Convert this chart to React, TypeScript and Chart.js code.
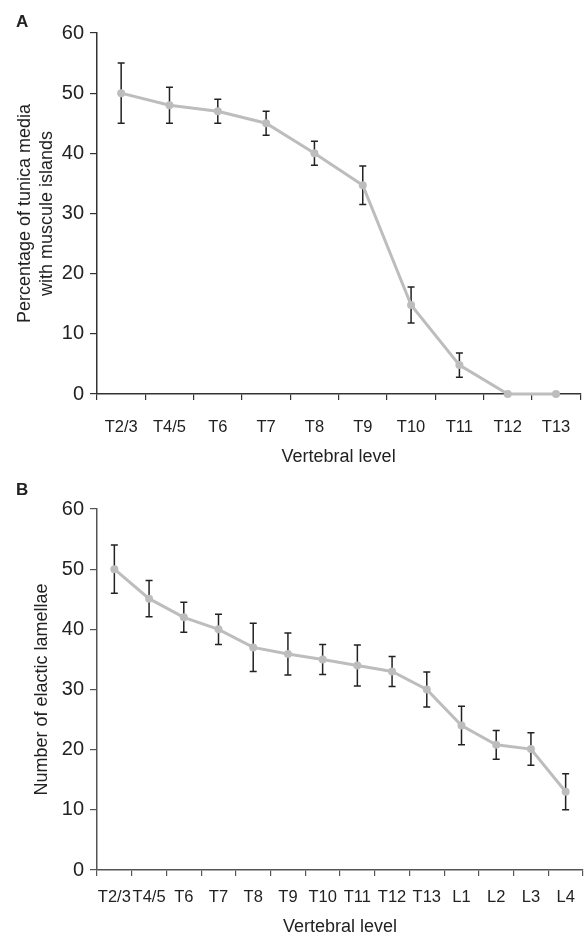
import React, { useEffect, useRef } from 'react';
import { Chart, registerables } from 'chart.js';

Chart.register(...registerables);

const catsA = ['T2/3', 'T4/5', 'T6', 'T7', 'T8', 'T9', 'T10', 'T11', 'T12', 'T13'];
const meanA = [50, 48, 47, 45, 40, 34.7, 14.8, 4.8, 0, 0];
const errA = [5, 3, 2, 2, 2, 3.2, 3, 2, null, null];

const catsB = ['T2/3', 'T4/5', 'T6', 'T7', 'T8', 'T9', 'T10', 'T11', 'T12', 'T13', 'L1', 'L2', 'L3', 'L4'];
const meanB = [50, 45.1, 42, 40, 37, 35.9, 35, 34, 33, 30, 24, 20.8, 20.1, 13];
const errB = [4, 3, 2.5, 2.5, 4, 3.5, 2.5, 3.4, 2.5, 2.9, 3.2, 2.4, 2.7, 3];

const yMin = 0;
const yMax = 60;
const yStep = 10;

const FONT = '"Liberation Sans", Arial, sans-serif';
const TEXT = '#222';

const errorBarPlugin = {
  id: 'errorBars',
  beforeDatasetsDraw(chart: any, _args: any, opts: any) {
    const errs: (number | null)[] = opts.errors || [];
    const means: number[] = chart.data.datasets[0].data;
    const { ctx } = chart;
    const x = chart.scales.x;
    const y = chart.scales.y;
    ctx.save();
    ctx.strokeStyle = '#222';
    ctx.lineWidth = 1.5;
    errs.forEach((e, i) => {
      if (e == null) return;
      const px = x.getPixelForValue(i);
      const top = y.getPixelForValue(means[i] + e);
      const bot = y.getPixelForValue(means[i] - e);
      ctx.beginPath();
      ctx.moveTo(px, top);
      ctx.lineTo(px, bot);
      ctx.moveTo(px - 3.5, top);
      ctx.lineTo(px + 3.5, top);
      ctx.moveTo(px - 3.5, bot);
      ctx.lineTo(px + 3.5, bot);
      ctx.stroke();
    });
    ctx.restore();
  },
};

const panelLabelPlugin = {
  id: 'panelLabel',
  afterDraw(chart: any, _args: any, opts: any) {
    const { ctx } = chart;
    ctx.save();
    ctx.font = 'bold 17px ' + FONT;
    ctx.fillStyle = TEXT;
    ctx.textBaseline = 'alphabetic';
    ctx.fillText(opts.text, opts.x, opts.y);
    ctx.restore();
  },
};

function makeConfig(p: {
  cats: string[];
  mean: number[];
  err: (number | null)[];
  yTitle: string | string[];
  yTitleLineHeight: number;
  yTitlePad: number;
  xHeight: number;
  topPad: number;
  xLabelPad: number;
  xTitlePad: number;
  axisColor: string;
  label: string;
  labelY: number;
}): any {
  return {
    type: 'line',
    data: {
      labels: p.cats,
      datasets: [
        {
          data: p.mean,
          borderColor: '#bdbdbd',
          backgroundColor: '#bdbdbd',
          borderWidth: 3,
          pointRadius: 4,
          pointBorderWidth: 0,
          pointBackgroundColor: '#bdbdbd',
          tension: 0,
          clip: false,
        },
      ],
    },
    options: {
      animation: false,
      responsive: false,
      maintainAspectRatio: false,
      layout: { padding: { top: p.topPad, right: 5, left: 0, bottom: 0 } },
      plugins: {
        legend: { display: false },
        tooltip: { enabled: false },
        errorBars: { errors: p.err },
        panelLabel: { text: p.label, x: 16, y: p.labelY },
      },
      scales: {
        x: {
          type: 'category',
          offset: true,
          afterFit: (s: any) => {
            s.height = p.xHeight;
          },
          grid: {
            offset: true,
            drawOnChartArea: false,
            drawTicks: true,
            tickLength: 6,
            color: p.axisColor,
            lineWidth: 1.2,
          },
          border: { display: true, color: p.axisColor, width: 1.5 },
          ticks: {
            font: { family: FONT, size: 16.5 },
            color: TEXT,
            padding: p.xLabelPad,
            maxRotation: 0,
            autoSkip: false,
          },
          title: {
            display: true,
            text: 'Vertebral level',
            font: { family: FONT, size: 18 },
            color: TEXT,
            padding: { top: 0, bottom: p.xTitlePad },
          },
        },
        y: {
          type: 'linear',
          min: yMin,
          max: yMax,
          afterFit: (s: any) => {
            s.width = 97;
          },
          grid: {
            drawOnChartArea: false,
            drawTicks: true,
            tickLength: 7,
            color: p.axisColor,
            lineWidth: 1.2,
          },
          border: { display: true, color: p.axisColor, width: 1.5 },
          ticks: {
            stepSize: yStep,
            font: { family: FONT, size: 20 },
            color: TEXT,
            padding: 6,
          },
          title: {
            display: true,
            text: p.yTitle,
            font: { family: FONT, size: 18, lineHeight: p.yTitleLineHeight },
            color: TEXT,
            padding: { top: p.yTitlePad, bottom: 0 },
          },
        },
      },
    },
    plugins: [errorBarPlugin, panelLabelPlugin],
  };
}

function ChartCanvas({ config, width, height }: { config: any; width: number; height: number }) {
  const ref = useRef<HTMLCanvasElement | null>(null);
  useEffect(() => {
    if (!ref.current) return;
    const chart = new Chart(ref.current, config);
    return () => chart.destroy();
  }, [config]);
  return <canvas ref={ref} width={width} height={height} style={{ display: 'block', width, height }} />;
}

const configA = makeConfig({
  cats: catsA,
  mean: meanA,
  err: errA,
  yTitle: ['Percentage of tunica media', 'with muscule islands'],
  yTitleLineHeight: 1.17,
  yTitlePad: 15,
  xHeight: 76,
  topPad: 33,
  xLabelPad: 17.5,
  xTitlePad: 2,
  axisColor: '#333',
  label: 'A',
  labelY: 27,
});

const configB = makeConfig({
  cats: catsB,
  mean: meanB,
  err: errB,
  yTitle: 'Number of elactic lamellae',
  yTitleLineHeight: 1.2,
  yTitlePad: 31,
  xHeight: 74,
  topPad: 39,
  xLabelPad: 11.5,
  xTitlePad: 6,
  axisColor: '#555',
  label: 'B',
  labelY: 25,
});

export default function App() {
  useEffect(() => {
    document.body.style.margin = '0';
  }, []);
  return (
    <div style={{ width: 588, height: 944, background: '#fff' }}>
      <ChartCanvas config={configA} width={588} height={470} />
      <ChartCanvas config={configB} width={588} height={474} />
    </div>
  );
}
